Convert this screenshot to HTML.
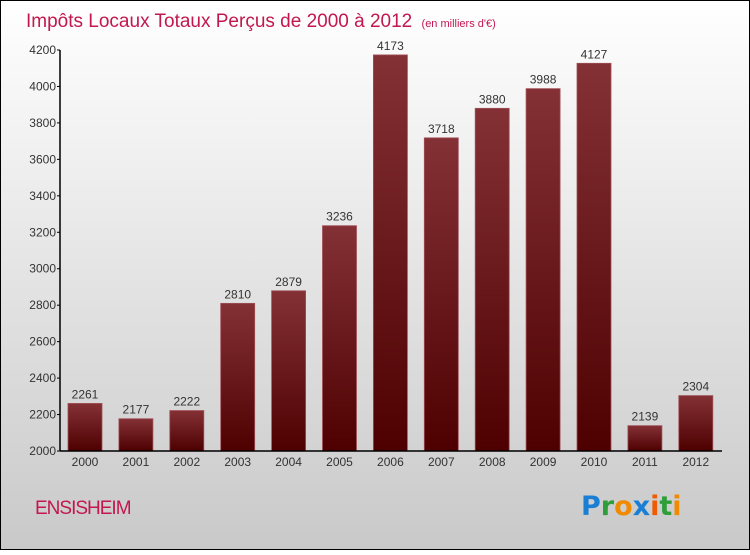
<!DOCTYPE html>
<html><head><meta charset="utf-8"><style>
html,body{margin:0;padding:0;}
body{width:750px;height:550px;overflow:hidden;font-family:"Liberation Sans",sans-serif;}
</style></head><body>
<svg id="chart" width="750" height="550" viewBox="0 0 750 550" xmlns="http://www.w3.org/2000/svg">
<defs>
<linearGradient id="bg" x1="0" y1="0" x2="0" y2="1"><stop offset="0" stop-color="#ffffff"/><stop offset="1" stop-color="#c9c9c9"/></linearGradient>
<linearGradient id="barg" x1="0" y1="0" x2="0" y2="1"><stop offset="0" stop-color="#843136"/><stop offset="1" stop-color="#4e0000"/></linearGradient>
</defs>
<rect x="0.5" y="0.5" width="749" height="549" fill="url(#bg)" stroke="#000" stroke-width="1"/>
<text x="26" y="27" font-size="19" fill="#c2184f">Impôts Locaux Totaux Perçus de 2000 à 2012 <tspan font-size="11" dx="4">(en milliers d'€)</tspan></text>
<g id="plot"></g>
<text x="35" y="514" font-size="19" fill="#c2184f" letter-spacing="-1">ENSISHEIM</text>
<g font-size="27" font-weight="bold" font-family="'DejaVu Sans',sans-serif">
<text x="581" y="515"><tspan fill="#1a7fd4">P</tspan><tspan fill="#2e9e3a">r</tspan><tspan fill="#f08a00">o</tspan><tspan fill="#1a7fd4">x</tspan><tspan fill="#f05a00">i</tspan><tspan fill="#2e9e3a">t</tspan><tspan fill="#f08a00">i</tspan></text>
</g>
</svg>
<script>
const years=["2000","2001","2002","2003","2004","2005","2006","2007","2008","2009","2010","2011","2012"];
const values=[2261,2177,2222,2810,2879,3236,4173,3718,3880,3988,4127,2139,2304];
const yTicks=[2000,2200,2400,2600,2800,3000,3200,3400,3600,3800,4000,4200];
const NS="http://www.w3.org/2000/svg";
const g=document.getElementById('plot');
const yMin=2000,yMax=4200,yBot=451,yTop=50,xAxis0=60,xAxis1=722;
function y(v){return yBot-(v-yMin)/(yMax-yMin)*(yBot-yTop);}
function x(i){return 85+i*50.9;}
function el(t,a){const e=document.createElementNS(NS,t);for(const k in a)e.setAttribute(k,a[k]);g.appendChild(e);return e;}
values.forEach((v,i)=>{
  const r=el('rect',{x:x(i)-17,y:y(v),width:34,height:yBot-y(v),fill:'url(#barg)',stroke:'#a05058','stroke-width':'0.8'});
  
  
  const t=el('text',{x:x(i),y:y(v)-5,'text-anchor':'middle','font-size':'12',fill:'#333'});
  t.textContent=v;
  
  
  const xl=el('text',{x:x(i),y:466,'text-anchor':'middle','font-size':'12',fill:'#333'});
  xl.textContent=years[i];
  
  
});
yTicks.forEach(v=>{
  const tk=el('line',{x1:xAxis0-3,x2:xAxis0,y1:y(v),y2:y(v),stroke:'#000'});
  
  
  const t=el('text',{x:xAxis0-4,y:y(v)+4,'text-anchor':'end','font-size':'12',fill:'#333'});
  t.textContent=v;
  
  
});
const ya=el('line',{x1:xAxis0,x2:xAxis0,y1:yTop,y2:yBot,stroke:'#000','stroke-width':'1.5'});


const xa=el('line',{x1:xAxis0,x2:xAxis1,y1:yBot,y2:yBot,stroke:'#000','stroke-width':'1.5'});


</script>
</body></html>
